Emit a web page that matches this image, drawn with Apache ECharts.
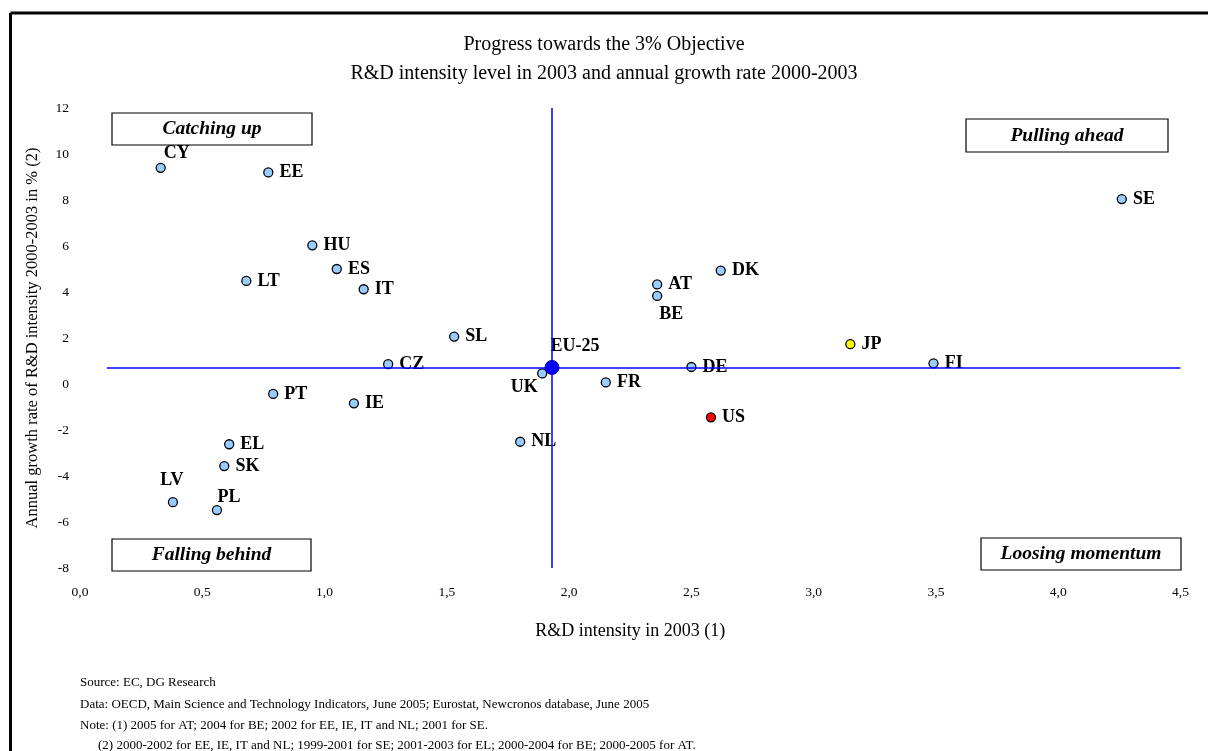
<!DOCTYPE html>
<html>
<head>
<meta charset="utf-8">
<script src="https://cdn.jsdelivr.net/npm/echarts@6/dist/echarts.min.js"></script>
<style>
html,body{margin:0;padding:0;background:#fff;}
#chart{width:1208px;height:751px;}
</style>
</head>
<body>
<div id="chart"></div>
<script>
// ---- data ----
var countries = ['CY','EE','HU','ES','LT','IT','SL','CZ','UK','FR','DE','NL','PT','IE','EL','SK','LV','PL','AT','BE','DK','SE','FI'];
var intensity2003 = [0.33,0.77,0.95,1.05,0.68,1.16,1.53,1.26,1.89,2.15,2.50,1.80,0.79,1.12,0.61,0.59,0.38,0.56,2.36,2.36,2.62,4.26,3.49];
var growthRate = [9.40,9.20,6.03,5.00,4.48,4.12,2.06,0.86,0.46,0.07,0.74,-2.51,-0.43,-0.84,-2.62,-3.57,-5.14,-5.48,4.33,3.83,4.93,8.04,0.90];
var euLabel = 'EU-25';
var euPoint = [1.93, 0.72];
var jpLabel = 'JP';
var jpPoint = [3.15, 1.73];
var usLabel = 'US';
var usPoint = [2.58, -1.45];
var xTicks = ['0,0','0,5','1,0','1,5','2,0','2,5','3,0','3,5','4,0','4,5'];
var yTicks = ['-8','-6','-4','-2','0','2','4','6','8','10','12'];
var hLineStartX = 0.11;

var serif = '"Liberation Serif","Times New Roman",serif';
var lblBase = {show:true, fontFamily:serif, fontWeight:'bold', fontSize:18, color:'#000', position:'right', distance:6};
var special = {
  CY:{position:'top', distance:0, offset:[16,0]},
  LV:{position:'top', distance:8, offset:[-1,0]},
  PL:{position:'top', distance:-1, offset:[12,0]},
  BE:{position:'bottom', distance:4, offset:[14,0]},
  UK:{position:'bottom', distance:0, offset:[-18,0]}
};
function mk(name, x, y){
  var l = Object.assign({}, lblBase, special[name]||{}, {formatter:name});
  return {name:name, value:[x,y], label:l};
}
var ptsData = countries.map(function(c,i){return mk(c, intensity2003[i], growthRate[i]);});

var chart = echarts.init(document.getElementById('chart'), null, {renderer:'canvas'});

function box(x,y,w,h,text){
  return {type:'group', x:x, y:y, children:[
    {type:'rect', shape:{x:0,y:0,width:w,height:h}, style:{fill:'#fff', stroke:'#000', lineWidth:1.2}},
    {type:'text', x:w/2, y:h/2, style:{text:text, font:'italic bold 19.5px '+serif, fill:'#000', align:'center', verticalAlign:'middle'}}
  ]};
}
function note(x,y,text){
  return {type:'text', x:x, y:y, style:{text:text, font:'13px '+serif, fill:'#000', verticalAlign:'middle'}};
}

var option = {
  backgroundColor:'#fff',
  animation:false,
  title:{
    text:'Progress towards the 3% Objective\nR&D intensity level in 2003 and annual growth rate 2000-2003',
    left:'center', top:25,
    textStyle:{fontFamily:serif, fontWeight:'normal', fontSize:20, color:'#000', lineHeight:29}
  },
  grid:{left:80, right:27.5, top:108, bottom:183, containLabel:false},
  xAxis:{
    type:'value', min:0, max:4.5, interval:0.5,
    axisLine:{show:false}, axisTick:{show:false}, splitLine:{show:false},
    axisLabel:{fontFamily:serif, fontSize:13.5, color:'#000', margin:17,
      formatter:function(v){return xTicks[Math.round(v/0.5)];}},
    name:'R&D intensity in 2003 (1)', nameLocation:'middle', nameGap:54,
    nameTextStyle:{fontFamily:serif, fontSize:18, color:'#000'}
  },
  yAxis:{
    type:'value', min:-8, max:12, interval:2,
    axisLine:{show:false}, axisTick:{show:false}, splitLine:{show:false},
    axisLabel:{fontFamily:serif, fontSize:13.5, color:'#000', margin:11,
      formatter:function(v){return yTicks[Math.round((v+8)/2)];}},
    name:'Annual growth rate of R&D intensity 2000-2003 in % (2)', nameLocation:'middle', nameGap:39,
    nameTextStyle:{fontFamily:serif, fontSize:16.5, color:'#000'}
  },
  series:[
    {
      type:'scatter', data:[], silent:true,
      markLine:{
        silent:true, symbol:['none','none'], label:{show:false},
        lineStyle:{color:'#0000FF', width:1.5, type:'solid'},
        data:[
          [{coord:[hLineStartX, euPoint[1]]},{coord:[4.5, euPoint[1]]}],
          [{coord:[euPoint[0], -8]},{coord:[euPoint[0], 12]}]
        ]
      }
    },
    {
      type:'scatter', symbolSize:9,
      itemStyle:{color:'#99CCFF', borderColor:'#000', borderWidth:1.3, opacity:1},
      data:ptsData
    },
    {
      type:'scatter', symbolSize:9,
      itemStyle:{color:'#FFFF00', borderColor:'#000', borderWidth:1.3, opacity:1},
      data:[mk(jpLabel, jpPoint[0], jpPoint[1])]
    },
    {
      type:'scatter', symbolSize:9,
      itemStyle:{color:'#FF0000', borderColor:'#000', borderWidth:1.3, opacity:1},
      data:[mk(usLabel, usPoint[0], usPoint[1])]
    },
    {
      type:'scatter', symbolSize:14,
      itemStyle:{color:'#0000FF', borderColor:'#000080', borderWidth:1, opacity:1},
      data:[{name:euLabel, value:euPoint, label:Object.assign({}, lblBase, {position:'top', distance:5, offset:[23,0], formatter:euLabel})}]
    }
  ],
  graphic:[
    {type:'line', shape:{x1:10.5, y1:13, x2:1208, y2:13}, style:{stroke:'#000', lineWidth:3}},
    {type:'line', shape:{x1:10.5, y1:13, x2:10.5, y2:751}, style:{stroke:'#000', lineWidth:3}},
    box(112,113,200,32,'Catching up'),
    box(966,119,202,33,'Pulling ahead'),
    box(112,539,199,32,'Falling behind'),
    box(981,538,200,32,'Loosing momentum'),
    note(80,683,'Source: EC, DG Research'),
    note(80,705,'Data: OECD, Main Science and Technology Indicators, June 2005; Eurostat, Newcronos database, June 2005'),
    note(80,726,'Note: (1) 2005 for AT; 2004 for BE; 2002 for EE, IE, IT and NL; 2001 for SE.'),
    note(98,746,'(2) 2000-2002 for EE, IE, IT and NL; 1999-2001 for SE; 2001-2003 for EL; 2000-2004 for BE; 2000-2005 for AT.')
  ]
};
chart.setOption(option);
</script>
</body>
</html>
